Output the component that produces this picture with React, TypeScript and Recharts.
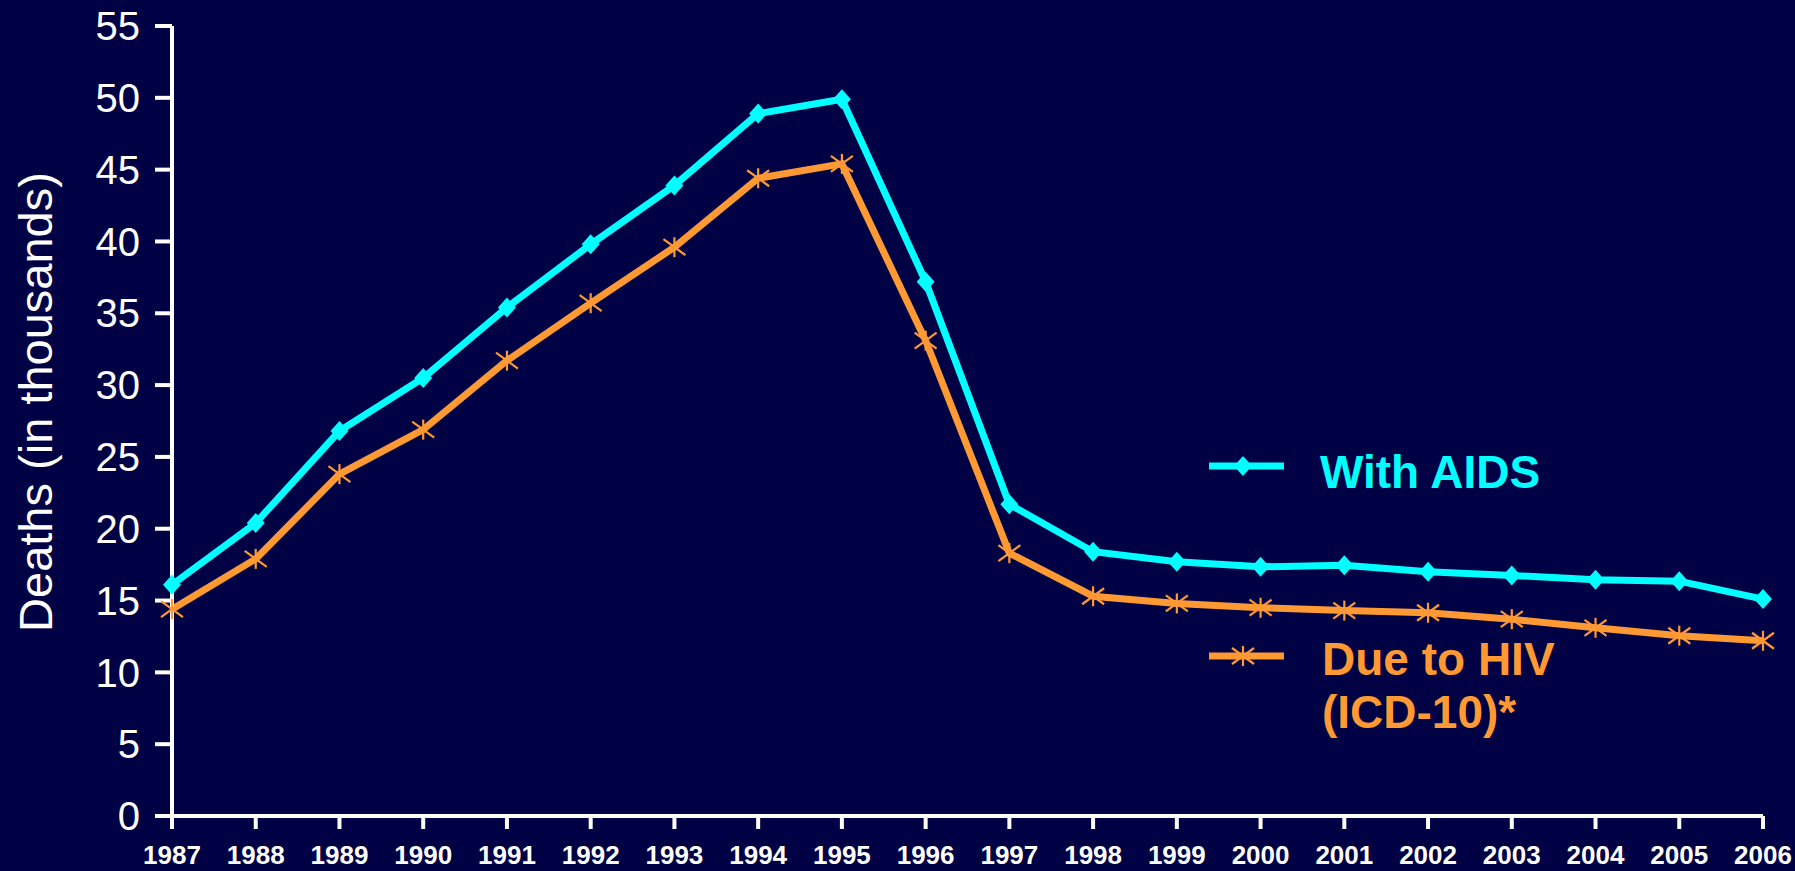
import React from 'react'
import { LineChart, Line, XAxis, YAxis, Legend } from 'recharts'

const years = [
  '1987', '1988', '1989', '1990', '1991', '1992', '1993', '1994', '1995', '1996',
  '1997', '1998', '1999', '2000', '2001', '2002', '2003', '2004', '2005', '2006',
]

// deaths, in thousands
const withAids = [
  16.1, 20.4, 26.8, 30.5, 35.4, 39.8, 43.9, 48.9, 49.9, 37.2,
  21.7, 18.4, 17.7, 17.35, 17.45, 17.0, 16.75, 16.45, 16.35, 15.1,
]
const dueToHiv = [
  14.4, 17.9, 23.8, 26.9, 31.7, 35.7, 39.6, 44.4, 45.4, 33.1,
  18.3, 15.3, 14.8, 14.5, 14.3, 14.15, 13.7, 13.1, 12.55, 12.2,
]

const yTicks = [0, 5, 10, 15, 20, 25, 30, 35, 40, 45, 50, 55]

const BG = '#000044'
const CYAN = '#00FFFF'
const ORANGE = '#FF9933'
const FONT = '"Liberation Sans", Arial, sans-serif'

const data = years.map((year, i) => ({
  year,
  aids: withAids[i],
  hiv: dueToHiv[i],
}))

function DiamondDot(props: any) {
  const { cx, cy, index } = props
  if (cx == null || cy == null) return <g key={`d-${index}`} />
  return (
    <polygon
      key={`d-${index}`}
      points={`${cx},${cy - 10} ${cx + 9},${cy} ${cx},${cy + 10} ${cx - 9},${cy}`}
      fill={CYAN}
    />
  )
}

function StarDot(props: any) {
  const { cx, cy, index } = props
  if (cx == null || cy == null) return <g key={`s-${index}`} />
  return (
    <g key={`s-${index}`} stroke={ORANGE} strokeWidth={2.2}>
      <line x1={cx - 11} y1={cy - 8} x2={cx + 11} y2={cy + 8} />
      <line x1={cx - 11} y1={cy + 8} x2={cx + 11} y2={cy - 8} />
      <line x1={cx} y1={cy - 10} x2={cx} y2={cy + 10} />
    </g>
  )
}

const renderLegend = () => (
  <svg width={420} height={320} style={{ display: 'block', overflow: 'visible' }}>
    <line x1={0} y1={36} x2={75} y2={36} stroke={CYAN} strokeWidth={7} />
    <DiamondDot cx={34} cy={36} index={0} />
    <text x={111} y={58} fill={CYAN} fontSize={46} fontWeight="bold" fontFamily={FONT}>
      With AIDS
    </text>
    <line x1={0} y1={226} x2={75} y2={226} stroke={ORANGE} strokeWidth={7} />
    <StarDot cx={34} cy={226} index={0} />
    <text x={113} y={245} fill={ORANGE} fontSize={46} fontWeight="bold" fontFamily={FONT}>
      Due to HIV
    </text>
    <text x={113} y={298} fill={ORANGE} fontSize={46} fontWeight="bold" fontFamily={FONT}>
      (ICD-10)*
    </text>
  </svg>
)

export default function App() {
  return (
    <div style={{ position: 'absolute', left: 0, top: 0, width: 1795, height: 871, background: BG }}>
      <LineChart
        width={1795}
        height={871}
        data={data}
        margin={{ top: 26, right: 32, bottom: 0, left: 0 }}
      >
        <XAxis
          dataKey="year"
          interval={0}
          height={55}
          tickSize={13}
          tickMargin={17}
          axisLine={{ stroke: '#fff', strokeWidth: 4 }}
          tickLine={{ stroke: '#fff', strokeWidth: 4 }}
          tick={{ fill: '#fff', fontSize: 26, fontWeight: 'bold', fontFamily: FONT }}
        />
        <YAxis
          domain={[0, 55]}
          ticks={yTicks}
          interval={0}
          width={172}
          tickSize={17}
          tickMargin={15}
          axisLine={{ stroke: '#fff', strokeWidth: 4 }}
          tickLine={{ stroke: '#fff', strokeWidth: 4 }}
          tick={{ fill: '#fff', fontSize: 40, fontFamily: FONT }}
          label={{
            content: () => (
              <text
                x={52}
                y={402}
                transform="rotate(-90, 52, 402)"
                textAnchor="middle"
                fill="#fff"
                fontSize={47}
                fontFamily={FONT}
              >
                Deaths (in thousands)
              </text>
            ),
          }}
        />
        <Legend
          layout="vertical"
          align="center"
          verticalAlign="middle"
          content={renderLegend}
          wrapperStyle={{ left: 1209, top: 430, width: 420 }}
        />
        <Line
          dataKey="aids"
          type="linear"
          stroke={CYAN}
          strokeWidth={7}
          dot={DiamondDot}
          activeDot={false}
          isAnimationActive={false}
        />
        <Line
          dataKey="hiv"
          type="linear"
          stroke={ORANGE}
          strokeWidth={7}
          dot={StarDot}
          activeDot={false}
          isAnimationActive={false}
        />
      </LineChart>
    </div>
  )
}
